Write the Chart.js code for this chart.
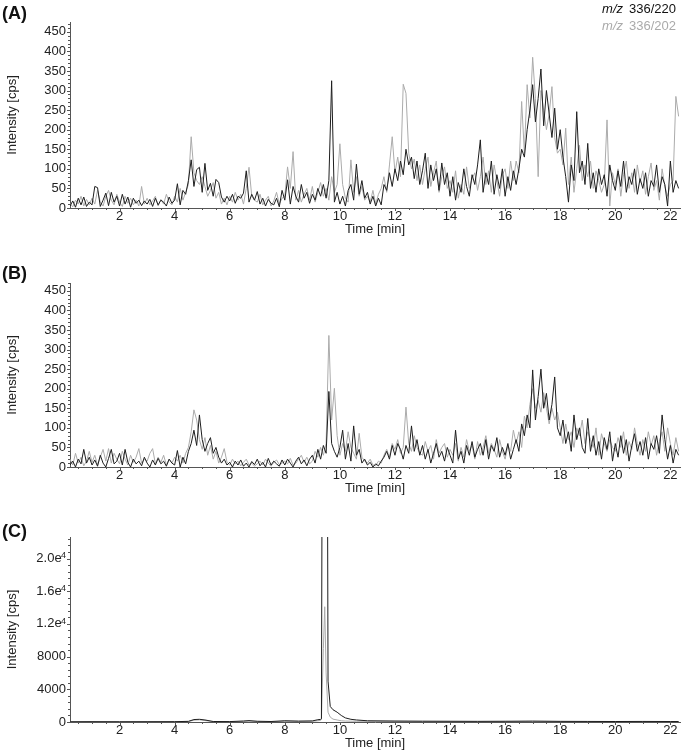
<!DOCTYPE html>
<html lang="en">
<head>
<meta charset="UTF-8">
<title>Chromatograms</title>
<style>
  body { margin: 0; width: 682px; height: 750px; overflow: hidden; background: #fff; position: relative;
         font-family: "Liberation Sans", Arial, sans-serif; color: #111; }
  .panel { position: absolute; left: 0; width: 682px; height: 240px; }
  .tag { position: absolute; left: 2px; font-weight: bold; font-size: 18px; line-height: 20px; }
  .legend { position: absolute; right: 6px; top: 0; font-size: 13px; line-height: 17px; text-align: right; }
  .legend i { margin-right: 6px; }
</style>
</head>
<body>
<div class="panel" style="top:0px"><canvas id="chartA" width="682" height="240"></canvas></div>
<div class="panel" style="top:259px"><canvas id="chartB" width="682" height="240"></canvas></div>
<div class="panel" style="top:514px"><canvas id="chartC" width="682" height="240"></canvas></div>
<div class="tag" style="top:3px">(A)</div>
<div class="tag" style="top:263px">(B)</div>
<div class="tag" style="top:521px">(C)</div>
<div class="legend">
  <div style="color:#111"><i>m/z</i>336/220</div>
  <div style="color:#aaa"><i>m/z</i>336/202</div>
</div>

<script src="https://cdn.jsdelivr.net/npm/chart.js"></script>
<script>
// sampling grid for panels A and B: 0.2 .. 22.3 min, every 0.1 min
const tStart = 0.2, tStep = 0.1;

// (A) m/z 336/220 (black) and 336/202 (grey), cps
const a220 = [
  5, 18, 2, 25, 8, 28, 4, 15,
  8, 55, 52, 4, 20, 38, 6, 40, 15, 30,
  5, 35, 10, 28, 2, 25, 12, 20, 6, 18,
  10, 22, 4, 25, 8, 20, 15, 5, 28, 12,
  20, 62, 8, 45, 35, 70, 123, 55, 98, 104,
  40, 114, 45, 63, 30, 73, 65, 28, 15, 30,
  18, 35, 12, 30, 25, 38, 95, 15, 35, 20,
  42, 10, 25, 5, 22, 12, 8, 25, 3, 45,
  20, 72, 10, 55, 30, 15, 60, 25, 40, 12,
  35, 20, 50, 30, 60, 25, 70, 325, 15, 40,
  10, 30, 5, 45, 60, 20, 112, 35, 70, 25,
  40, 10, 30, 5, 25, 8, 60, 45, 90, 55,
  100, 70, 120, 85, 150, 110, 130, 75, 120, 60,
  95, 140, 50, 110, 70, 100, 45, 115, 60, 90,
  30, 80, 20, 65, 40, 100, 55, 30, 85, 60,
  110, 174, 40, 90, 60, 120, 35, 85, 50, 100,
  30, 80, 45, 95, 60, 100, 150, 130, 200, 250,
  315, 220, 280, 355, 210, 300, 240, 180, 255, 150,
  200, 130, 80, 15, 110, 70, 246, 90, 120, 60,
  165, 50, 90, 40, 100, 60, 85, 30, 110, 70,
  45, 95, 55, 120, 40, 80, 60, 100, 35, 75,
  50, 90, 30, 70, 55, 110, 40, 80, 60, 5,
  120, 40, 70, 50
];
const a202 = [
  12, 3, 20, 10, 30, 5, 22, 8,
  25, 10, 45, 15, 5, 30, 45, 20, 8, 35,
  15, 4, 30, 12, 25, 8, 20, 5, 55, 10,
  25, 8, 18, 30, 5, 22, 10, 35, 15, 8,
  30, 15, 50, 20, 40, 60, 182, 90, 70, 60,
  80, 55, 30, 45, 65, 25, 40, 10, 25, 8,
  30, 15, 40, 20, 35, 10, 50, 104, 30, 20,
  15, 35, 8, 20, 30, 5, 18, 40, 10, 25,
  30, 105, 50, 144, 20, 45, 15, 35, 50, 20,
  55, 15, 40, 65, 30, 50, 20, 80, 40, 60,
  164, 60, 25, 15, 123, 40, 80, 30, 55, 20,
  30, 15, 45, 10, 35, 50, 80, 40, 110, 182,
  90, 130, 80, 316, 293, 140, 100, 125, 70, 110,
  60, 100, 130, 55, 90, 120, 40, 80, 105, 50,
  70, 40, 95, 25, 60, 35, 105, 50, 75, 90,
  45, 80, 130, 60, 95, 40, 110, 70, 30, 85,
  100, 50, 120, 70, 120, 90, 272, 140, 315, 230,
  385, 280, 80, 300, 250, 200, 240, 310, 180, 140,
  150, 110, 204, 60, 130, 40, 100, 160, 70, 110,
  80, 120, 50, 95, 70, 40, 60, 225, 5, 90,
  60, 100, 30, 85, 120, 50, 90, 40, 110, 65,
  95, 35, 80, 115, 45, 70, 20, 100, 55, 30,
  60, 70, 285, 234
];

// (B)
const b220 = [
  5, 15, 0, 20, 8, 45, 10, 25,
  5, 18, 2, 30, 10, 0, 22, 45, 8, 15,
  35, 5, 45, 12, 0, 20, 8, 15, 3, 25,
  10, 0, 18, 5, 22, 8, 15, 2, 20, 10,
  5, 42, 0, 25, 8, 40, 60, 94, 55, 133,
  70, 40, 60, 75, 35, 50, 25, 10, 20, 5,
  12, 0, 15, 5, 18, 2, 10, 0, 14, 6,
  20, 3, 12, 0, 22, 5, 15, 8, 2, 18,
  5, 20, 10, 0, 15, 25, 8, 18, 3, 20,
  30, 10, 45, 20, 55, 35, 193, 60, 40, 25,
  50, 94, 20, 60, 15, 105, 30, 45, 10, 20,
  5, 12, 0, 8, 3, 15, 25, 40, 20, 55,
  30, 60, 45, 20, 55, 35, 105, 40, 70, 30,
  55, 20, 45, 10, 35, 60, 25, 40, 15, 50,
  30, 10, 94, 20, 40, 10, 55, 30, 65, 25,
  45, 60, 30, 70, 20, 55, 40, 75, 25, 50,
  30, 60, 20, 45, 70, 40, 110, 80, 133, 100,
  248, 120, 180, 250, 150, 188, 120, 160, 230, 100,
  80, 120, 60, 90, 40, 133, 70, 100, 50, 35,
  124, 40, 80, 30, 65, 20, 75, 45, 90, 15,
  60, 25, 80, 35, 70, 15, 55, 85, 40, 65,
  30, 75, 20, 60, 45, 80, 35, 133, 70, 20,
  55, 10, 45, 30
];
const b202 = [
  20, 5, 35, 10, 25, 3, 15, 40,
  12, 30, 5, 25, 45, 15, 47, 10, 35, 20,
  8, 40, 20, 5, 30, 12, 25, 47, 10, 20,
  15, 35, 47, 8, 25, 12, 30, 5, 20, 10,
  25, 15, 30, 10, 35, 50, 90, 146, 120, 70,
  45, 75, 30, 55, 20, 40, 10, 25, 47, 12,
  5, 20, 8, 15, 3, 12, 20, 5, 10, 2,
  8, 15, 5, 20, 10, 2, 12, 18, 6, 10,
  15, 8, 22, 5, 10, 20, 30, 12, 25, 8,
  15, 40, 25, 50, 30, 60, 336, 120, 201, 80,
  30, 60, 40, 90, 50, 35, 20, 86, 25, 15,
  10, 20, 5, 3, 15, 10, 30, 45, 25, 60,
  45, 70, 35, 50, 153, 60, 40, 80, 50, 35,
  30, 65, 40, 55, 20, 70, 35, 50, 60, 25,
  45, 30, 60, 15, 50, 25, 70, 40, 55, 20,
  65, 30, 50, 80, 35, 60, 45, 25, 70, 40,
  20, 55, 40, 94, 60, 90, 50, 130, 100, 160,
  200, 150, 170, 140, 190, 150, 110, 150, 120, 140,
  100, 60, 110, 70, 90, 50, 100, 80, 120, 60,
  90, 70, 50, 100, 30, 85, 60, 40, 70, 50,
  40, 75, 50, 90, 30, 65, 45, 100, 60, 30,
  70, 40, 90, 55, 80, 30, 65, 90, 40, 100,
  60, 30, 75, 40
];

// (C) read at uneven times (min), black peak runs off the top
const tC = [0.2, 1, 2, 3, 4, 4.5, 4.7, 4.9, 5.1, 5.4, 6, 6.5, 6.7, 7, 7.5,
  8, 8.5, 9, 9.2, 9.3, 9.33, 9.4, 9.45, 9.5, 9.57, 9.65, 9.75, 9.9, 10.05, 10.2,
  10.4, 10.6, 11, 12, 13, 14, 15, 16, 17, 18, 19, 20, 21, 22, 22.3];
const c220 = [30, 40, 30, 35, 40, 80, 300, 330, 250, 60, 50, 120, 170, 90, 60,
  150, 110, 130, 280, 320, 400, 90000, 90000, 90000, 5000, 1900, 1500, 1200, 800, 500,
  330, 250, 150, 120, 100, 90, 80, 90, 110, 80, 70, 60, 70, 60, 60];
const c202 = [20, 30, 25, 30, 35, 60, 220, 260, 180, 40, 40, 80, 100, 60, 40,
  90, 70, 90, 150, 200, 300, 9000, 14100, 6000, 1200, 600, 350, 250, 150, 120,
  100, 90, 80, 70, 60, 60, 50, 60, 70, 60, 50, 50, 50, 40, 40];

const xTicks = [2, 4, 6, 8, 10, 12, 14, 16, 18, 20, 22];
const yTicksAB = [0, 50, 100, 150, 200, 250, 300, 350, 400, 450];
const yTicksC = [0, 4000, 8000, 12000, 16000, 20000];
const yLabelsC = ['0', '4000', '8000', '1.2e', '1.6e', '2.0e'];
const yExpC = ['', '', '', '4', '4', '4'];

const tGrid = a220.map((_, i) => +(tStart + i * tStep).toFixed(2));

const family = '"Liberation Sans", Arial, sans-serif';
const font = { family: family, size: 13 };
const darkCol = '#1e1e1e', greyCol = '#ababab', axisCol = '#555';
const labelPad = 4;

// small tick marks along both axes, plus superscript exponents
const minorTicks = {
  id: 'minorTicks',
  afterDraw(chart, args, o) {
    const ctx = chart.ctx, x = chart.scales.x, y = chart.scales.y;
    const area = chart.chartArea;
    ctx.save();
    ctx.strokeStyle = axisCol;
    ctx.lineWidth = 1;
    ctx.beginPath();
    for (let k = 0; k * o.yStep <= y.max; k++) {
      const py = Math.round(y.getPixelForValue(k * o.yStep)) + 0.5;
      const len = k % o.yEvery === 0 ? 3 : 2;
      ctx.moveTo(area.left - len, py);
      ctx.lineTo(area.left, py);
    }
    for (let k = Math.ceil(x.min / o.xStep); k * o.xStep <= x.max; k++) {
      const px = Math.round(x.getPixelForValue(k * o.xStep)) + 0.5;
      const len = k % o.xEvery === 0 ? 3 : 2;
      ctx.moveTo(px, area.bottom);
      ctx.lineTo(px, area.bottom + len);
    }
    ctx.stroke();
    if (o.exps) {
      ctx.fillStyle = '#222';
      ctx.font = '9px ' + family;
      ctx.textAlign = 'right';
      ctx.textBaseline = 'top';
      y.ticks.forEach(t => {
        const e = o.exps[yTicksC.indexOf(t.value)];
        if (!e) return;
        const py = y.getPixelForValue(t.value);
        ctx.fillText(e, area.left - labelPad, py - 7);
      });
    }
    ctx.restore();
  }
};

function makeChart(id, xs, black, grey, yMax, yTicks, yLabel, padTop, minor) {
  new Chart(document.getElementById(id), {
    type: 'line',
    data: {
      datasets: [
        { label: 'm/z 336/220', data: xs.map((t, i) => ({ x: t, y: black[i] })),
          borderColor: darkCol, borderWidth: 1, pointRadius: 0, tension: 0 },
        { label: 'm/z 336/202', data: xs.map((t, i) => ({ x: t, y: grey[i] })),
          borderColor: greyCol, borderWidth: 1, pointRadius: 0, tension: 0 }
      ]
    },
    options: {
      responsive: false,
      animation: false,
      layout: { padding: { top: padTop, right: 2, left: 0, bottom: 0 } },
      plugins: { legend: { display: false }, tooltip: { enabled: false }, minorTicks: minor },
      scales: {
        x: {
          type: 'linear', min: 0.2, max: 22.35,
          afterBuildTicks: s => { s.ticks = xTicks.map(v => ({ value: v })); },
          afterFit: s => { s.height = 32; },
          grid: { display: false, drawTicks: false, tickLength: 0 },
          border: { display: true, color: axisCol, width: 1 },
          ticks: { font: font, color: '#222', padding: 1, maxRotation: 0 },
          title: { display: true, text: 'Time [min]', color: '#222', font: { family: family, size: 13 },
                   padding: { top: 0, bottom: 3 } }
        },
        y: {
          type: 'linear', min: 0, max: yMax,
          afterBuildTicks: s => { s.ticks = yTicks.map(v => ({ value: v })); },
          afterFit: s => { s.width = 70; },
          grid: { display: false, drawTicks: false, tickLength: 0 },
          border: { display: true, color: axisCol, width: 1 },
          ticks: { font: font, color: '#222', padding: labelPad, callback: yLabel },
          title: { display: true, text: 'Intensity [cps]', color: '#222', font: { family: family, size: 13 },
                   padding: { top: 5, bottom: 0 } }
        }
      }
    },
    plugins: [minorTicks]
  });
}

const plainLabel = v => String(v);
// leave a narrow gap for the superscript drawn by the plugin
const cLabel = v => {
  const i = yTicksC.indexOf(v);
  return yExpC[i] ? yLabelsC[i] + '\u2004' : yLabelsC[i];
};

makeChart('chartA', tGrid, a220, a202, 475, yTicksAB, plainLabel, 22,
  { yStep: 10, yEvery: 5, xStep: 0.5, xEvery: 4 });
makeChart('chartB', tGrid, b220, b202, 470, yTicksAB, plainLabel, 24,
  { yStep: 10, yEvery: 5, xStep: 0.5, xEvery: 4 });
makeChart('chartC', tC, c220, c202, 22630, yTicksC, cLabel, 23,
  { yStep: 800, yEvery: 5, xStep: 0.5, xEvery: 4, exps: yExpC });
</script>
</body>
</html>
